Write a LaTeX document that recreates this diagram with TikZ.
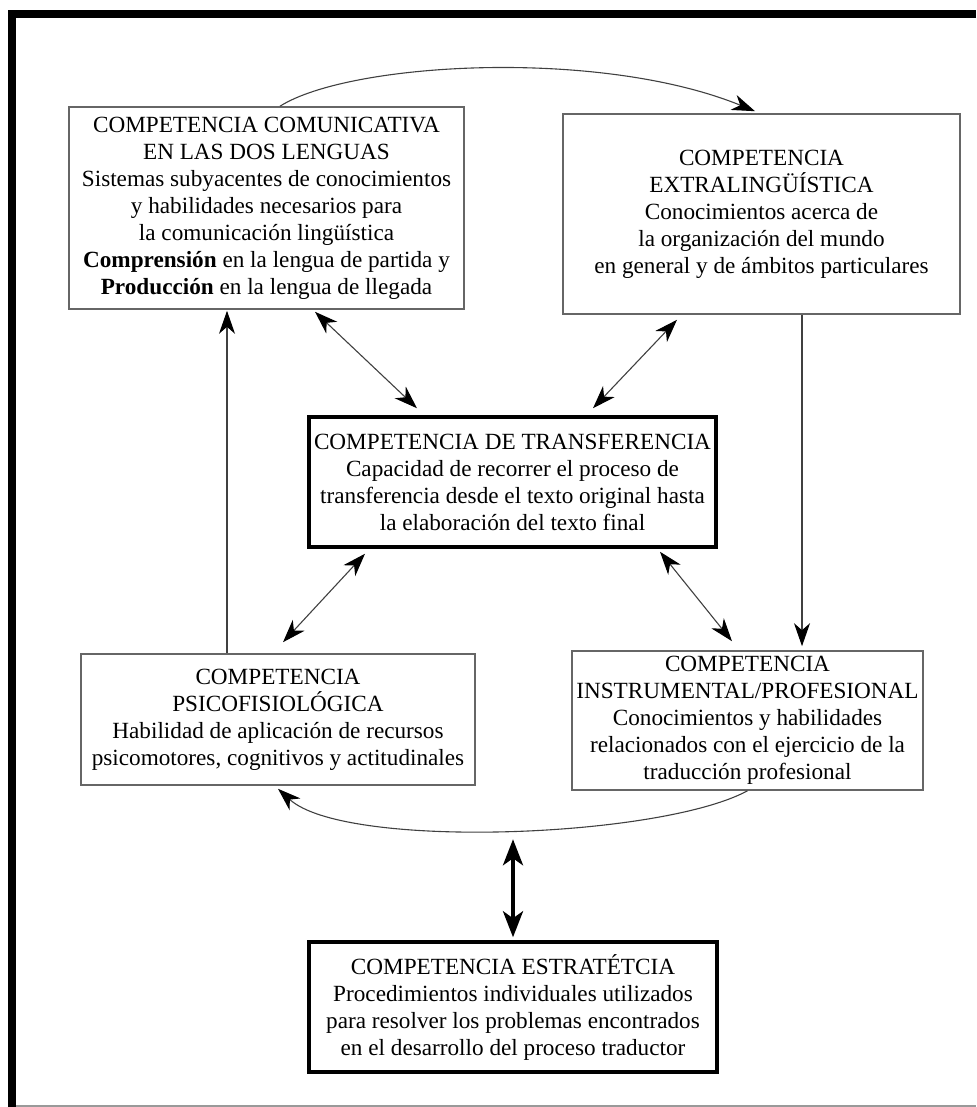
\documentclass[tikz,border=0pt]{standalone}
\usepackage{fontspec}
\setmainfont{Liberation Serif}
\usetikzlibrary{arrows.meta}
\begin{document}
\begin{tikzpicture}[x=1pt,y=-1pt,
  font=\fontsize{23.2}{27}\selectfont,
  box/.style={draw=black!60, line width=1.6pt, fill=white, inner sep=0pt, align=center},
  strongbox/.style={box, draw=black, line width=3.5pt},
  tipthin/.tip={Stealth[length=23pt,width=16pt,inset=7pt,black]},
  tipthick/.tip={Stealth[length=26pt,width=20pt,inset=7pt,black]},
  link/.style={draw=black!75, line width=1.1pt},
  both/.style={link, tipthin-tipthin},
  single/.style={link, -tipthin},
  heavy/.style={draw=black, line width=4pt, tipthick-tipthick}]
\useasboundingbox (0,0) rectangle (976,1107);
% frame
\fill[black] (8,10) rectangle (976,18);
\fill[black] (8,10) rectangle (16,1107);
\draw[black!40, line width=1.5pt] (16,1106) -- (976,1106);

% boxes
\node[box, minimum width=395pt, minimum height=202pt] (b1) at (266.5,208)
  {COMPETENCIA COMUNICATIVA\\EN LAS DOS LENGUAS\\Sistemas subyacentes de conocimientos\\y habilidades necesarios para\\la comunicación lingüística\\\textbf{Comprensión} en la lengua de partida y\\\textbf{Producción} en la lengua de llegada};
\node[box, minimum width=397pt, minimum height=200pt] (b2) at (761.5,214)
  {COMPETENCIA\\EXTRALINGÜÍSTICA\\Conocimientos acerca de\\la organización del mundo\\en general y de ámbitos particulares};
\node[strongbox, minimum width=407pt, minimum height=130pt] (b3) at (512.5,482)
  {COMPETENCIA DE TRANSFERENCIA\\Capacidad de recorrer el proceso de\\transferencia desde el texto original hasta\\la elaboración del texto final};
\node[box, minimum width=394pt, minimum height=131pt] (b4) at (278,719.5)
  {COMPETENCIA\\PSICOFISIOLÓGICA\\Habilidad de aplicación de recursos\\psicomotores, cognitivos y actitudinales};
\node[box, minimum width=351pt, minimum height=139pt] (b5) at (747.5,720.5)
  {COMPETENCIA\\INSTRUMENTAL/PROFESIONAL\\Conocimientos y habilidades\\relacionados con el ejercicio de la\\traducción profesional};
\node[strongbox, minimum width=408pt, minimum height=130pt] (b6) at (513,1007)
  {COMPETENCIA ESTRATÉTCIA\\Procedimientos individuales utilizados\\para resolver los problemas encontrados\\en el desarrollo del proceso traductor};

% top curved arrow
\draw[single] ([xshift=13.5pt]b1.north) .. controls (350,62) and (600,48) .. ([xshift=-6.5pt,yshift=2pt]b2.north);
% bottom curved arrow
\draw[single] (b5.south) .. controls (660,838) and (345,850) .. ([yshift=-3pt]b4.south);

% diagonal double arrows
\draw[both] ([xshift=48.5pt,yshift=-2pt]b1.south) -- ([xshift=-95.5pt,yshift=7pt]b3.north);
\draw[both] ([xshift=-84.5pt,yshift=-5pt]b2.south) -- ([xshift=80.5pt,yshift=7pt]b3.north);
\draw[both] ([xshift=-147.5pt,yshift=-5pt]b3.south) -- ([xshift=5pt,yshift=11pt]b4.north);
\draw[both] ([xshift=147.5pt,yshift=-3pt]b3.south) -- ([xshift=-15.5pt,yshift=9pt]b5.north);

% vertical arrows
\draw[single] ([xshift=40.5pt]b2.south) -- ([xshift=54.5pt,yshift=4pt]b5.north);
\draw[single] ([xshift=-51pt]b4.north) -- ([xshift=-39.5pt,yshift=-1pt]b1.south);

% thick double arrow
\coordinate (curvebottom) at ([yshift=101pt]b6.north);
\draw[heavy] (curvebottom) -- ([yshift=3pt]b6.north);
\end{tikzpicture}
\end{document}
